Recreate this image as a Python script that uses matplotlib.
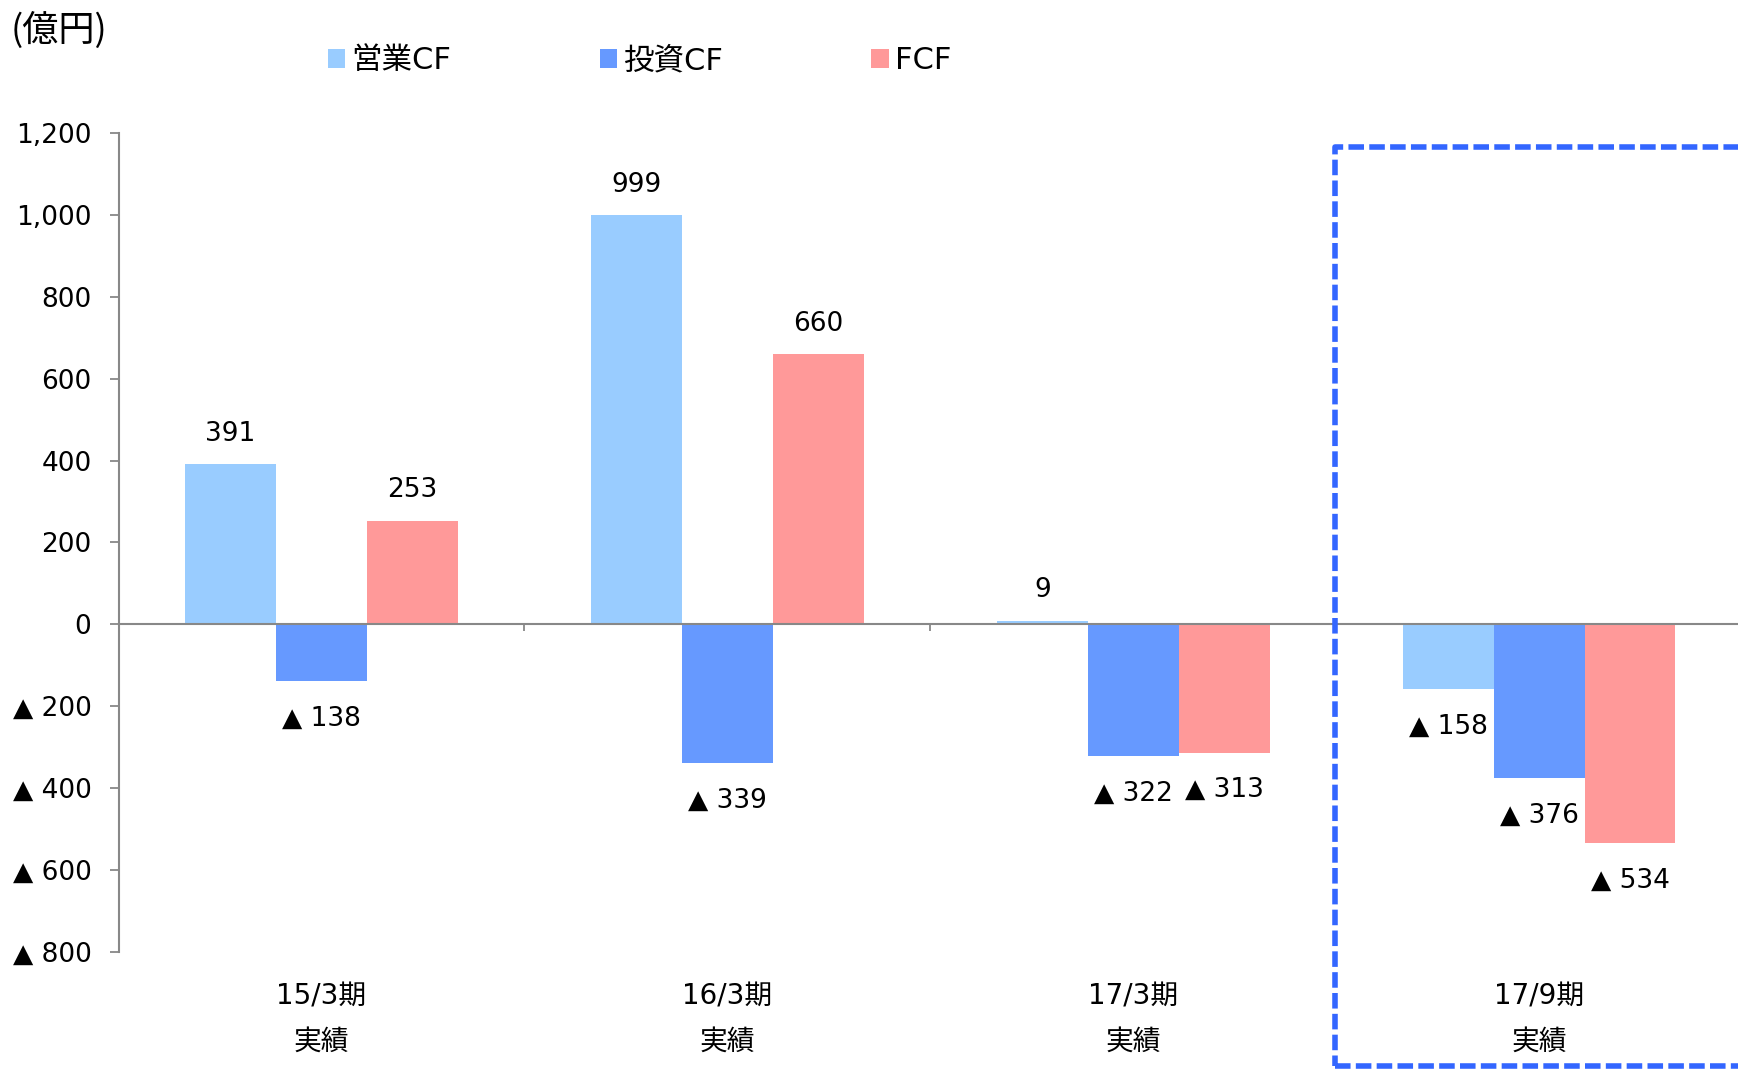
import numpy as np
import matplotlib
matplotlib.use("Agg")
import matplotlib.pyplot as plt
from matplotlib.patches import Patch, Rectangle

plt.rcParams["font.family"] = ["DejaVu Sans", "Noto Sans CJK JP"]

periods = ["15/3期", "16/3期", "17/3期", "17/9期"]
period_note = ["実績", "実績", "実績", "実績"]
series_names = ["営業CF", "投資CF", "FCF"]
operating_cf = [391, 999, 9, -158]
investing_cf = [-138, -339, -322, -376]
free_cf = [253, 660, -313, -534]
y_ticks = [-800, -600, -400, -200, 0, 200, 400, 600, 800, 1000, 1200]
colors = ["#99CCFF", "#6699FF", "#FF9999"]


def fmt(v):
    if v < 0:
        return "▲ {:,}".format(-v)
    return "{:,}".format(v)


fig = plt.figure(figsize=(17.38, 10.70), dpi=100)
ax = fig.add_axes([0.0682, 0.1103, 0.9318, 0.7654])

x = np.arange(len(periods))
w = 0.224
all_series = [operating_cf, investing_cf, free_cf]
for k, (vals, name, c) in enumerate(zip(all_series, series_names, colors)):
    pos = x + (k - 1) * w
    ax.bar(pos, vals, width=w, color=c, label=name, zorder=2)
    for px, v in zip(pos, vals):
        off = 22 if v >= 0 else -27
        ax.annotate(fmt(v), (px, v), xytext=(0, off), textcoords="offset points",
                    ha="center", va="center", fontsize=19, color="black")

ax.set_xlim(-0.5, 3.49)
ax.set_ylim(-800, 1200)
ax.set_yticks(y_ticks)
ax.set_yticklabels([fmt(t) for t in y_ticks], fontsize=19)
ax.tick_params(axis="y", length=6.5, width=1.3, color="#888888", pad=13)

ax.spines["top"].set_visible(False)
ax.spines["right"].set_visible(False)
ax.spines["bottom"].set_position(("data", 0))
for s in ["left", "bottom"]:
    ax.spines[s].set_color("#888888")
    ax.spines[s].set_linewidth(1.5)
ax.spines["bottom"].set_zorder(3)
ax.set_xticks([0.5, 1.5, 2.5])
ax.set_xticklabels([])
ax.tick_params(axis="x", length=5, width=1.3, color="#888888")

for i in x:
    ax.text(i, -0.054, periods[i], transform=ax.get_xaxis_transform(),
            ha="center", va="center", fontsize=20)
    ax.text(i, -0.109, period_note[i], transform=ax.get_xaxis_transform(),
            ha="center", va="center", fontsize=20)

fig.text(0.006, 0.972, "(億円)", ha="left", va="center", fontsize=26,
         family=["Noto Sans CJK JP", "DejaVu Sans"])

handles = [Patch(facecolor=c, label=n) for c, n in zip(colors, series_names)]
fig.legend(handles=handles, loc="center left", bbox_to_anchor=(0.1887, 0.943),
           ncol=3, frameon=False, handlelength=0.57, handleheight=0.57,
           handletextpad=0.2, columnspacing=4.85, borderpad=0, borderaxespad=0,
           prop={"size": 22, "family": ["DejaVu Sans", "Noto Sans CJK JP"]})

box = Rectangle((1335 / 1738, 1 - 1066 / 1070), 0.3, (1066 - 147) / 1070,
                transform=fig.transFigure, fill=False, edgecolor="#3366FF",
                linewidth=4.0, linestyle=(0, (2.8, 0.95)), joinstyle="round")
fig.patches.append(box)

fig.savefig("out.png", dpi=100)
